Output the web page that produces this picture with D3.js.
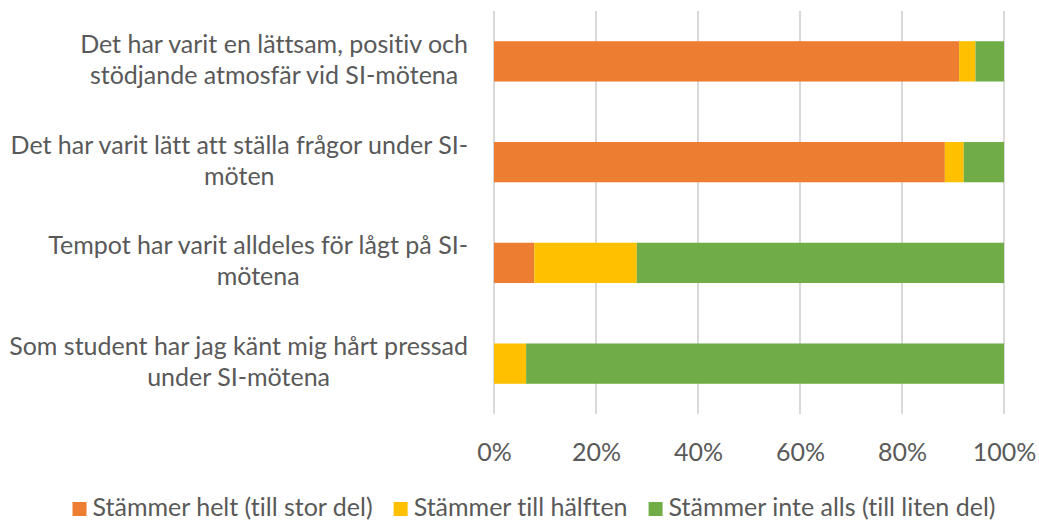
<!DOCTYPE html>
<html>
<head>
<meta charset="utf-8">
<script src="https://cdn.jsdelivr.net/npm/d3@7/dist/d3.min.js"></script>
<style>
  html, body { margin: 0; padding: 0; background: #fff; }
  svg { display: block; }
  text { font-family: Lato, "Open Sans", sans-serif; fill: #595959; font-variant-ligatures: none; font-feature-settings: "liga" 0, "clig" 0; }
</style>
</head>
<body>
<svg id="chart" width="1039" height="521"></svg>
<script>
// ---- data ----
const categories = [
  ["Det har varit en lättsam, positiv och", "stödjande atmosfär vid SI-mötena"],
  ["Det har varit lätt att ställa frågor under SI-", "möten"],
  ["Tempot har varit alldeles för lågt på SI-", "mötena"],
  ["Som student har jag känt mig hårt pressad", "under SI-mötena"]
];
const seriesNames = ["Stämmer helt (till stor del)", "Stämmer till hälften", "Stämmer inte alls (till liten del)"];
const helt    = [91.2, 88.4, 7.9, 0];
const halften = [3.2, 3.7, 20.1, 6.3];
const inte    = [5.6, 7.9, 72.0, 93.7];
const tickValues = [0, 20, 40, 60, 80, 100];
const colors = ["#ED7D31", "#FFC000", "#70AD47"];

// ---- layout ----
const svg = d3.select("#chart");
const plot = { left: 494, right: 1004, top: 11, bottom: 414 };
const catFont = 25, tickFont = 25, legFont = 25;

const x = d3.scaleLinear().domain([0, 100]).range([plot.left, plot.right]);
const ids = categories.map((c, i) => i);
const y = d3.scaleBand().domain(ids).range([plot.top, plot.bottom])
  .paddingInner(0.6).paddingOuter(0.3);

// gridlines
svg.append("g").selectAll("line").data(tickValues).join("line")
  .attr("x1", d => x(d)).attr("x2", d => x(d))
  .attr("y1", plot.top).attr("y2", plot.bottom)
  .attr("stroke", "#d9d9d9").attr("stroke-width", 2);

// stacked bars
const rows = ids.map(i => ({ id: i, v0: helt[i], v1: halften[i], v2: inte[i] }));
const stack = d3.stack().keys(["v0", "v1", "v2"]);
const stacked = stack(rows);
svg.append("g").selectAll("g").data(stacked).join("g")
  .attr("fill", (d, i) => colors[i])
  .selectAll("rect").data(d => d).join("rect")
  .attr("x", d => x(d[0]))
  .attr("width", d => Math.max(0, x(d[1]) - x(d[0])))
  .attr("y", d => y(d.data.id))
  .attr("height", y.bandwidth());

// x axis tick labels
const xAxis = d3.axisBottom(x).tickValues(tickValues).tickFormat(d => d + "%").tickSize(0).tickPadding(0);
const gx = svg.append("g").call(xAxis);
gx.select(".domain").remove();
gx.selectAll("text")
  .attr("y", 461).attr("dy", null)
  .style("font-size", tickFont + "px")
  .style("font-family", "Lato, sans-serif")
  .attr("fill", "#595959");

// category labels (block right-aligned, lines centered)
const labelRight = 468;
const catG = svg.append("g");
categories.forEach((lines, i) => {
  const cy = y(i) + y.bandwidth() / 2;
  const g = catG.append("g");
  const texts = lines.map((ln, k) => g.append("text")
    .attr("y", cy - 8.5 + k * 31)
    .attr("text-anchor", "middle")
    .style("font-size", catFont + "px")
    .text(ln));
  const maxW = d3.max(texts, t => t.node().getComputedTextLength());
  texts.forEach(t => t.attr("x", labelRight - maxW / 2));
});

// legend
const legG = svg.append("g");
const sq = 14, gapTxt = 6, gapItem = 21, legBase = 516, legCenter = 534;
const items = seriesNames.map((n, i) => {
  const g = legG.append("g");
  g.append("rect").attr("width", sq).attr("height", sq).attr("y", legBase - sq).attr("fill", colors[i]);
  const t = g.append("text").attr("x", sq + gapTxt).attr("y", legBase)
    .style("font-size", legFont + "px").text(n);
  return { g, w: sq + gapTxt + t.node().getComputedTextLength() };
});
const total = d3.sum(items, d => d.w) + gapItem * (items.length - 1);
let cx = legCenter - total / 2;
items.forEach(it => { it.g.attr("transform", `translate(${cx},0)`); cx += it.w + gapItem; });
</script>
</body>
</html>
